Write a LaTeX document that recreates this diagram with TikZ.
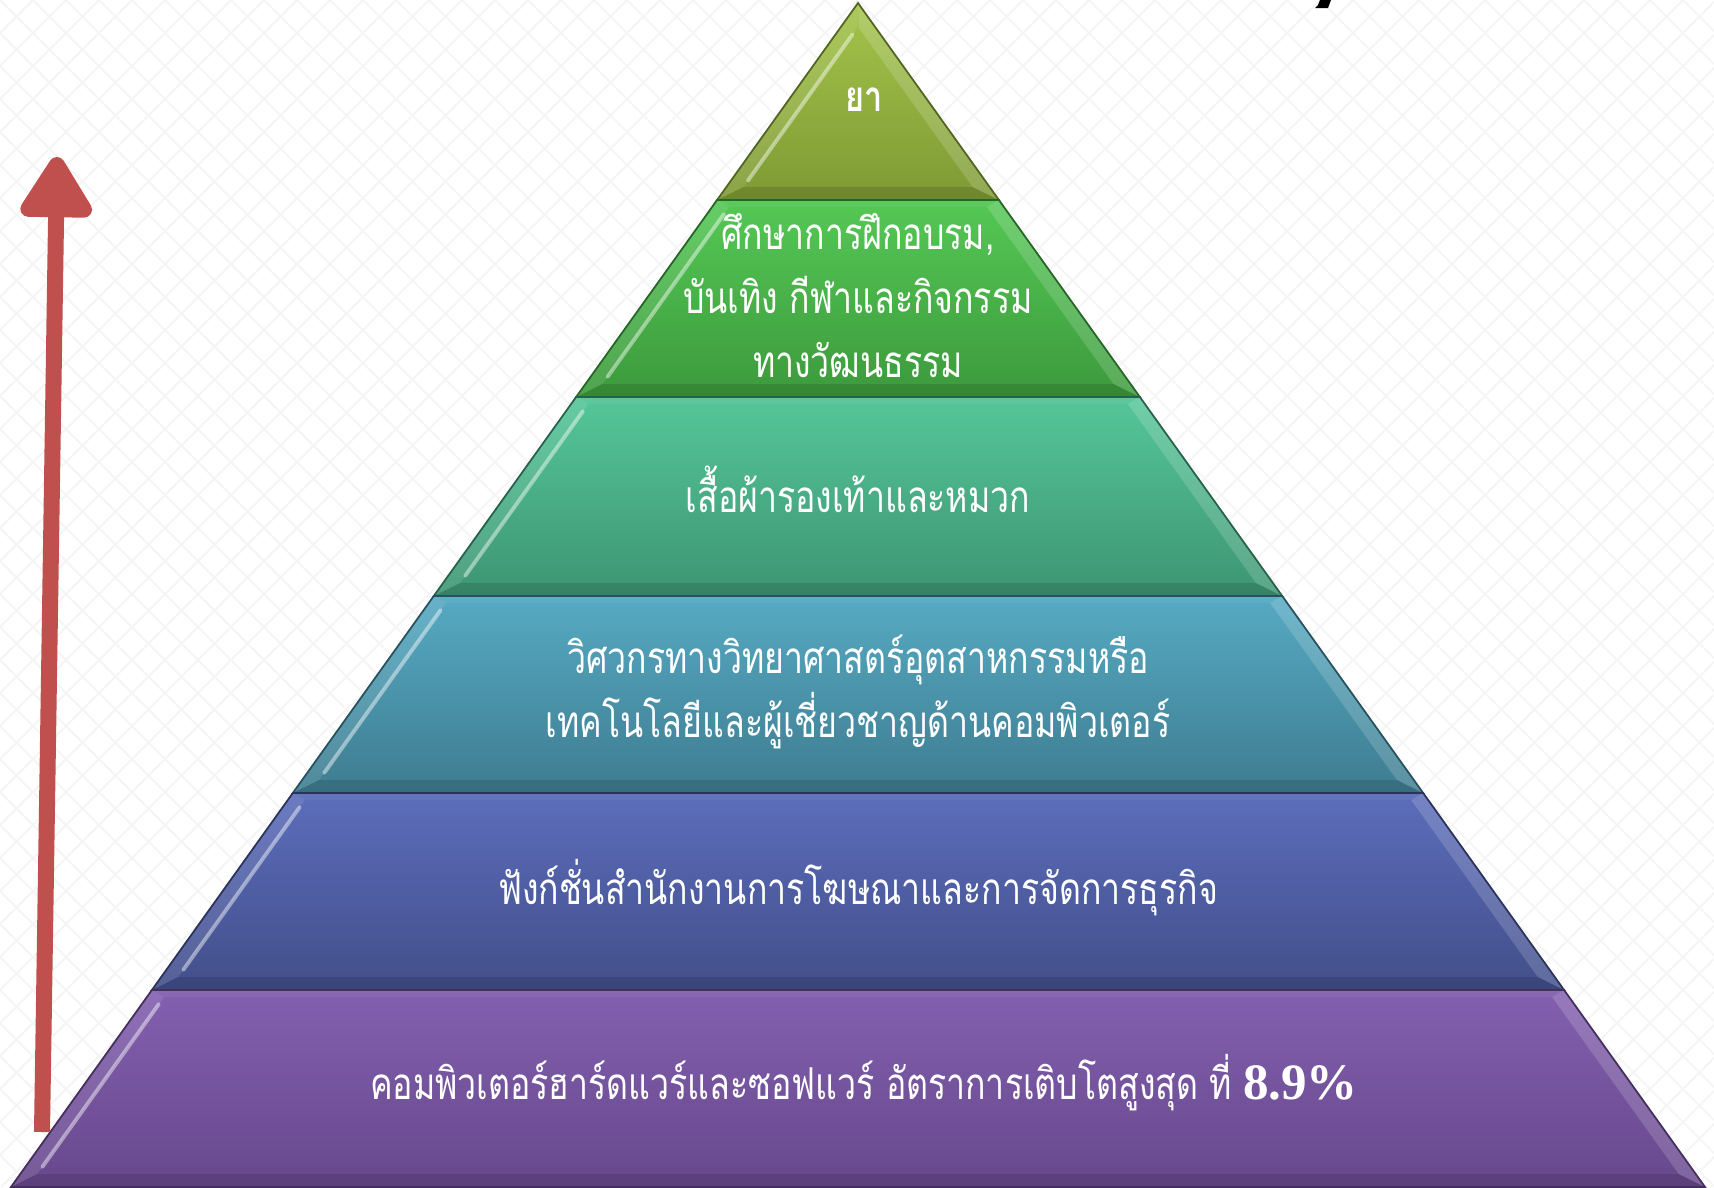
\documentclass[tikz,border=0pt]{standalone}
\usepackage{fontspec}
\newfontfamily\thaifont[Script=Thai,FakeStretch=0.77]{Loma}
\newfontfamily\numfont{Liberation Serif}
\usetikzlibrary{arrows.meta}
\usetikzlibrary{calc}

\definecolor{levAtop}{HTML}{A3C44B}
\definecolor{levAbot}{HTML}{7E9A34}
\definecolor{levBtop}{HTML}{55C855}
\definecolor{levBbot}{HTML}{3C9A3C}
\definecolor{levCtop}{HTML}{55C698}
\definecolor{levCbot}{HTML}{3D9573}
\definecolor{levDtop}{HTML}{56AAC3}
\definecolor{levDbot}{HTML}{3E7C90}
\definecolor{levEtop}{HTML}{5C6DBB}
\definecolor{levEbot}{HTML}{424F8A}
\definecolor{levFtop}{HTML}{8360B0}
\definecolor{levFbot}{HTML}{67488C}
\definecolor{arrowred}{HTML}{C0504D}

\begin{document}
\begin{tikzpicture}[x=0.01cm,y=-0.01cm,
    leveltext/.style={text=white,align=center,inner sep=0pt,
      font=\thaifont\fontsize{12.5}{18.2}\selectfont},
    hatch/.style={draw=black!4,line width=0.5pt},
    growth/.style={draw=arrowred,line width=0.16cm,
      -{Triangle[round,length=0.68cm,width=0.8cm]}}]

  \useasboundingbox (0,0) rectangle (1714,1187);
  \fill[white] (0,0) rectangle (1714,1187);

  % background pattern
  \begin{scope}
    \clip (0,0) rectangle (1714,1187);
    \foreach \k in {-1188,-1155,...,1714}
      \draw[hatch] (\k,0) -- ++(1187,1187);
    \foreach \k in {0,33,...,2901}
      \draw[hatch] (\k,0) -- ++(-1187,1187);
  \end{scope}

  % pyramid levels
  \foreach \ytop/\ybot/\tin/\lev in {3/200/25/A,200/397/7/B,397/596/7/C,
      596/793/7/D,793/990/7/E,990/1187/7/F} {
    \pgfmathsetmacro\wt{0.7154*(\ytop-3)}
    \pgfmathsetmacro\wb{0.7154*(\ybot-3)}
    \pgfmathsetmacro\wti{0.7154*(\ytop+\tin-3)-17}
    \pgfmathsetmacro\wbi{0.7154*(\ybot-16)-17}
    \coordinate (O1) at ({858-\wt},\ytop);
    \coordinate (O2) at ({858+\wt},\ytop);
    \coordinate (O3) at ({858+\wb},\ybot);
    \coordinate (O4) at ({858-\wb},\ybot);
    \coordinate (I1) at ({858-\wti},\ytop+\tin);
    \coordinate (I2) at ({858+\wti},\ytop+\tin);
    \coordinate (I3) at ({858+\wbi},\ybot-13);
    \coordinate (I4) at ({858-\wbi},\ybot-13);
    \shade[top color=lev\lev top,bottom color=lev\lev bot]
      (O1) -- (O2) -- (O3) -- (O4) -- cycle;
    \fill[white,opacity=0.10] (O1) -- (I1) -- (I4) -- (O4) -- cycle;
    \fill[white,opacity=0.16] (O2) -- (I2) -- (I3) -- (O3) -- cycle;
    \fill[black,opacity=0.12] (O4) -- (I4) -- (I3) -- (O3) -- cycle;
    \fill[white,opacity=0.05] (O1) -- (O2) -- (I2) -- (I1) -- cycle;
    \draw[white,opacity=0.45,line width=1.1pt,line cap=round]
      ($(I1)!0.04!(I4)$) -- ($(I1)!0.96!(I4)$);
    \draw[lev\lev bot!65!black,line width=0.5pt]
      (O1) -- (O2) -- (O3) -- (O4) -- cycle;
  }

  % labels
  \node[leveltext,font=\thaifont\bfseries\fontsize{12}{14}\selectfont] (medicine) at (864,100) {ยา};
  \node[leveltext] (education) at (858,296) {ศึกษาการฝึกอบรม,\\บันเทิง กีฬาและกิจกรรม\\ทางวัฒนธรรม};
  \node[leveltext] (clothing) at (858,489) {เสื้อผ้ารองเท้าและหมวก};
  \node[leveltext] (engineer) at (858,692) {วิศวกรทางวิทยาศาสตร์อุตสาหกรรมหรือ\\เทคโนโลยีและผู้เชี่ยวชาญด้านคอมพิวเตอร์};
  \node[leveltext] (office) at (858,888) {ฟังก์ชั่นสำนักงานการโฆษณาและการจัดการธุรกิจ};
  \node[leveltext] (computer) at (864,1083) {คอมพิวเตอร์ฮาร์ดแวร์และซอฟแวร์ อัตราการเติบโตสูงสุด ที่ {\numfont\bfseries\fontsize{14.5}{18}\selectfont 8.9\%}};

  % growth arrow
  \coordinate (arrow_foot) at (42,1132);
  \coordinate (arrow_tip) at (57,157);
  \draw[growth] (arrow_foot) -- (arrow_tip);

  % clipped fragment of the title
  \fill[black] (1320,0) -- (1331,0) -- (1328,8) -- (1315,8) -- (1318,5) -- cycle;
\end{tikzpicture}
\end{document}
